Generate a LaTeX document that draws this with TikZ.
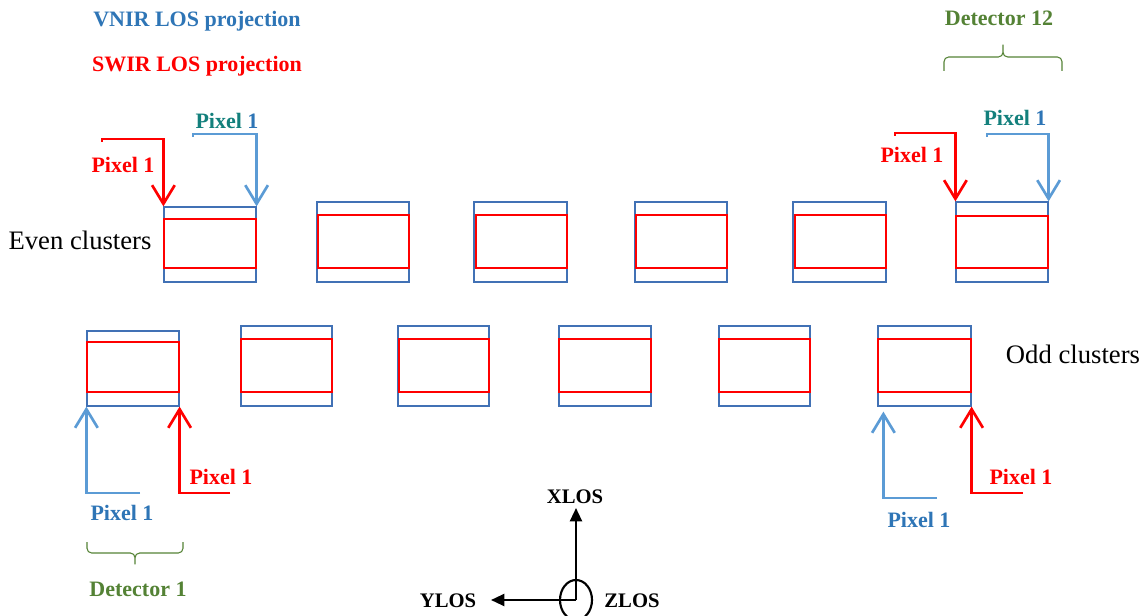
\documentclass[tikz,border=0pt]{standalone}
\usepackage{fontspec}
\setmainfont{Liberation Serif}
\usepackage{tikz}
\usetikzlibrary{arrows.meta}

\definecolor{vnirtext}{RGB}{46,117,182}
\definecolor{vnirline}{RGB}{91,155,213}
\definecolor{vnirbox}{RGB}{65,113,181}
\definecolor{swir}{RGB}{255,0,0}
\definecolor{detgreen}{RGB}{84,130,53}
\definecolor{pixteal}{RGB}{19,128,124}

\tikzset{
  lbl/.style={font=\bfseries\fontsize{16.5}{18}\selectfont, inner sep=0pt},
  axlbl/.style={font=\bfseries\fontsize{15.5}{17}\selectfont, inner sep=0pt},
  rowlbl/.style={font=\fontsize{20}{22}\selectfont, inner sep=0pt},
}

\begin{document}
\begin{tikzpicture}
	[x=0.75pt, y=-0.75pt,
	 vnirbox/.style={draw=vnirbox, line width=0.9pt, inner sep=0pt},
	 swirbox/.style={draw=swir, line width=1pt, inner sep=0pt},
	 pixarr/.style={line width=2pt, -{Straight Barb[length=14pt, width=17pt]}},
	 axarr/.style={line width=1.6pt, -{Triangle[length=10pt, width=9pt]}},
	 detbrace/.style={draw=detgreen, line width=0.8pt, rounded corners=3.5pt}]
   \useasboundingbox (0,0) rectangle (1146,616);

   % legend
   \node[lbl, text=vnirtext] (vnirleg) at (197,21) {VNIR LOS projection};
   \node[lbl, text=swir] (swirleg) at (197,66) {SWIR LOS projection};

   % even clusters, top row
   \foreach \l/\r/\t/\st/\sl [count=\i] in
     {164/256/207/219/164, 317/409/202/215/318, 474/567/202/215/476,
      635/727/202/215/636, 793/886/202/215/795, 956/1048/202/216/956}
   {
     \node[vnirbox, minimum width={(\r-\l)*0.75pt}, minimum height={(282-\t)*0.75pt}]
       (ev\i) at ({(\l+\r)/2},{(\t+282)/2}) {};
     \node[swirbox, minimum width={(\r-\sl)*0.75pt}, minimum height={(268-\st)*0.75pt}]
       (es\i) at ({(\sl+\r)/2},{(\st+268)/2}) {};
   }

   % odd clusters, bottom row
   \foreach \l/\r/\t/\st/\sl [count=\i] in
     {87/179/331/342/87, 241/332/326/339/241, 398/489/326/339/399,
      559/651/326/339/559, 719/810/326/339/719, 878/971/326/339/878}
   {
     \node[vnirbox, minimum width={(\r-\l)*0.75pt}, minimum height={(406-\t)*0.75pt}]
       (ov\i) at ({(\l+\r)/2},{(\t+406)/2}) {};
     \node[swirbox, minimum width={(\r-\sl)*0.75pt}, minimum height={(392-\st)*0.75pt}]
       (os\i) at ({(\sl+\r)/2},{(\st+392)/2}) {};
   }

   \node[rowlbl] (evenlbl) at (80,240) {Even clusters};
   \node[rowlbl] (oddlbl) at (1073,354) {Odd clusters};

   % pixel 1 markers
   \coordinate (sTL) at (102,139);
   \coordinate (vTL) at (193,134);
   \coordinate (sTR) at (895,133);
   \coordinate (vTR) at (987,134);
   \coordinate (vBL) at (140,493);
   \coordinate (sBL) at (230,493);
   \coordinate (vBR) at (937,498);
   \coordinate (sBR) at (1023,493);

   \draw[pixarr, swir] (sTL) ++(0,3) -- (sTL) -| (ev1.north west);
   \draw[pixarr, vnirline] (vTL) ++(0,3) -- (vTL) -| (ev1.north east);
   \draw[pixarr, swir] (sTR) ++(0,3) -- (sTR) -| (ev6.north west);
   \draw[pixarr, vnirline] (vTR) ++(0,3) -- (vTR) -| (ev6.north east);
   \draw[pixarr, vnirline] (vBL) -| (ov1.south west);
   \draw[pixarr, swir] (sBL) -| (ov1.south east);
   \draw[pixarr, vnirline] (vBR) -| ([shift={(6,5)}]ov6.south west);
   \draw[pixarr, swir] (sBR) -| (ov6.south east);

   \node[lbl, text=swir] (pTLs) at (123,165) {Pixel 1};
   \node[lbl] (pTLv) at (227,121) {\color{pixteal}Pixel \color{vnirtext}1};
   \node[lbl, text=swir] (pTRs) at (912,155) {Pixel 1};
   \node[lbl] (pTRv) at (1015,118) {\color{pixteal}Pixel \color{vnirtext}1};
   \node[lbl, text=vnirtext] (pBLv) at (122,513) {Pixel 1};
   \node[lbl, text=swir] (pBLs) at (221,477) {Pixel 1};
   \node[lbl, text=vnirtext] (pBRv) at (919,520) {Pixel 1};
   \node[lbl, text=swir] (pBRs) at (1021,477) {Pixel 1};

   % detector braces
   \coordinate (d12a) at (944,71);
   \coordinate (d12t) at (1003,42);
   \coordinate (d12b) at (1062,71);
   \coordinate (d1a) at (87,542);
   \coordinate (d1t) at (135,567);
   \coordinate (d1b) at (183,542);
   \draw[detbrace] (d12a) |- (d12t |- 0,57) -- (d12t) -- (d12t |- 0,57) -| (d12b);
   \draw[detbrace] (d1a) |- (d1t |- 0,553) -- (d1t) -- (d1t |- 0,553) -| (d1b);
   \node[lbl, text=detgreen] (det12) at (999,18) {Detector 12};
   \node[lbl, text=detgreen] (det1) at (138,589) {Detector 1};

   % LOS frame
   \coordinate (o) at (576,600);
   \coordinate (xtip) at (576,508);
   \coordinate (ytip) at (491,600);
   \draw[line width=1.6pt] (o) ellipse (16 and 20);
   \draw[axarr] (o) -- (xtip);
   \draw[axarr] (o) -- (ytip);
   \node[axlbl] (xlos) at (575,497) {XLOS};
   \node[axlbl] (ylos) at (448,601) {YLOS};
   \node[axlbl] (zlos) at (632,601) {ZLOS};
\end{tikzpicture}
\end{document}
